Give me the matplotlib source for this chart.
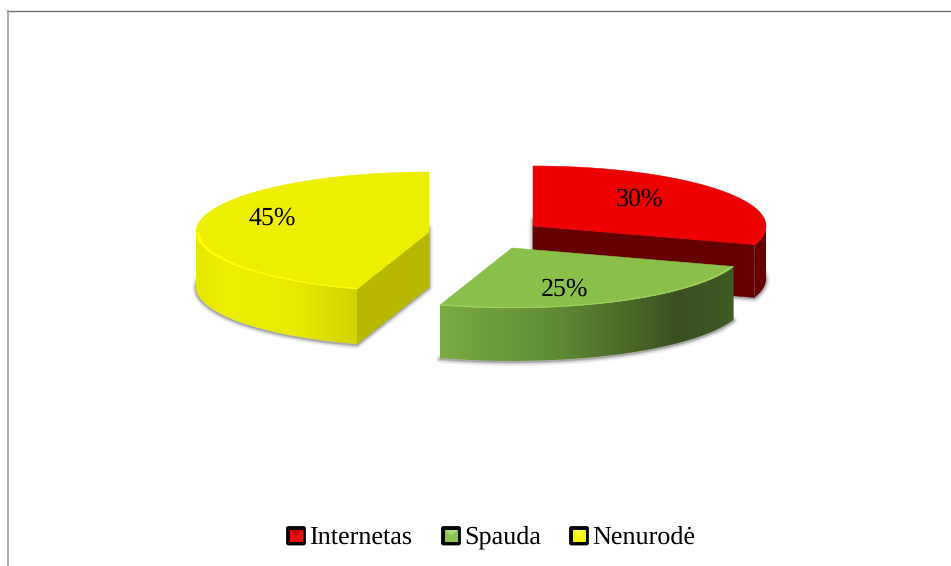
import numpy as np
import matplotlib
matplotlib.use("Agg")
import matplotlib.pyplot as plt
from matplotlib.colors import to_rgb
from matplotlib.patches import Polygon, FancyBboxPatch, Rectangle

categories = ["Internetas", "Spauda", "Nenurodė"]
values = [30, 25, 45]

plt.rcParams['font.family'] = ['Liberation Serif', 'DejaVu Serif']
plt.rcParams['text.hinting'] = 'no_hinting'
fig = plt.figure(figsize=(9.51, 5.66), dpi=100)
ax = fig.add_axes([0, 0, 1, 1])
ax.set_xlim(0, 951)
ax.set_ylim(566, 0)
ax.axis('off')

RX, RY = 233, 60
style = {
    "Internetas": dict(c=(533, 226), d=53, top="#ee0000", hi="#f20404", cut="#660000",
                       stops=[(0, "#660000"), (1, "#6c0000")], lab=(639, 199)),
    "Spauda": dict(c=(512, 248), d=53, top="#88c04a", hi="#9ad45c", cut=None,
                   stops=[(0, "#7aab42"), (.4, "#5f8a35"), (.82, "#3a5020"), (1, "#3f5c26")], lab=(565, 289)),
    "Nenurodė": dict(c=(429, 232), d=55, top="#eeee00", hi="#ffff00", cut="#b8b800",
                     stops=[(0, "#e6e600"), (.2, "#eeee00"), (.62, "#eaea00"), (1, "#d2d200")], lab=(272, 218)),
}

# angles clockwise from 12 o'clock, from the shares
edges = np.concatenate([[0], np.cumsum(values)]) / sum(values) * 2 * np.pi
spans = {n: (edges[i], edges[i + 1]) for i, n in enumerate(categories)}


def arc(c, a0, a1, k=1.0, n=160, dy=0):
    t = np.linspace(a0, a1, n)
    return np.column_stack([c[0] + k * RX * np.sin(t), c[1] + dy - k * RY * np.cos(t)])


def ramp(stops, n=400):
    xs = [s[0] for s in stops]
    cs = np.array([to_rgb(s[1]) for s in stops])
    f = np.linspace(0, 1, n)
    return np.dstack([np.interp(f, xs, cs[:, i]) for i in range(3)])


def draw(name, z):
    s = style[name]
    a0, a1 = spans[name]
    c, d = s["c"], s["d"]
    # soft shadow of the base
    base = np.vstack([[c[0], c[1] + d + 1], arc(c, a0, a1, dy=d + 1)])
    for lw, al in [(6, .05), (4, .07), (2.5, .10), (1.2, .16)]:
        ax.add_patch(Polygon(base, closed=True, fc="none", ec="black", lw=lw, alpha=al, zorder=z, joinstyle='round'))
    # cut face
    if s["cut"]:
        p = arc(c, a0, a1)
        end = p[-1] if name == "Internetas" else p[0]
        ax.add_patch(Polygon([c, end, (end[0], end[1] + d), (c[0], c[1] + d)], closed=True,
                             fc=s["cut"], ec=s["cut"], lw=.4, zorder=z + .1))
    # outer curved side (only the front half is visible)
    v0, v1 = max(a0, np.pi / 2), min(a1, 3 * np.pi / 2)
    p = arc(c, v0, v1, n=220)
    side = np.vstack([p, p[::-1] + [0, d]])
    patch = Polygon(side, closed=True, fc="none", ec="none", zorder=z + .2)
    ax.add_patch(patch)
    im = ax.imshow(ramp(s["stops"]), extent=(side[:, 0].min(), side[:, 0].max(), side[:, 1].max(), side[:, 1].min()),
                   aspect='auto', zorder=z + .2, interpolation='bilinear')
    im.set_clip_path(patch)
    # top face
    top = np.vstack([c, arc(c, a0, a1)])
    ax.add_patch(Polygon(top, closed=True, fc=s["top"], ec=s["top"], lw=.4, zorder=z + .3))
    # bevel highlight along the front rim
    ax.add_patch(Polygon(np.vstack([arc(c, v0, v1, n=220), arc(c, v0, v1, k=.984, n=220)[::-1]]), closed=True,
                         fc=s["hi"], ec="none", zorder=z + .4))
    ax.text(*s["lab"], f"{values[categories.index(name)]}%", fontsize=18.6, color="black",
            ha='center', va='center', zorder=z + .5)


for z, name in zip([2, 3, 4], ["Nenurodė", "Internetas", "Spauda"]):
    draw(name, z)
ax.set_xlim(0, 951)
ax.set_ylim(566, 0)

# chart frame
ax.plot([7, 951], [10.5, 10.5], color="#707070", lw=1.0, zorder=1)
ax.plot([7.5, 7.5], [10.5, 566], color="#a8a8a8", lw=1.4, zorder=1)

# legend
leg_x = [286, 441, 569]
inner = ["#ee1010", "#8cc44e", "#f8f800"]
shade = ["#c80808", "#a8d878", "#ffff30"]
for x, col, sh, name in zip(leg_x, inner, shade, categories):
    ax.add_patch(FancyBboxPatch((x + .5, 526.5), 19, 18.5, boxstyle="round,pad=0,rounding_size=2",
                                fc="#050505", ec="#050505", lw=.6, zorder=5))
    ax.add_patch(Rectangle((x + 4, 530), 12.5, 12, fc=col, ec="none", zorder=6))
    ax.add_patch(Polygon([(x + 4, 530), (x + 16.5, 530), (x + 10.25, 536)], closed=True, fc=sh, ec="none", zorder=6.1))
    ax.text(x + 23, 543.6, name, fontsize=18.8, color="black", ha='left', va='baseline', zorder=6)

fig.savefig("out.png", dpi=100, facecolor="white")
